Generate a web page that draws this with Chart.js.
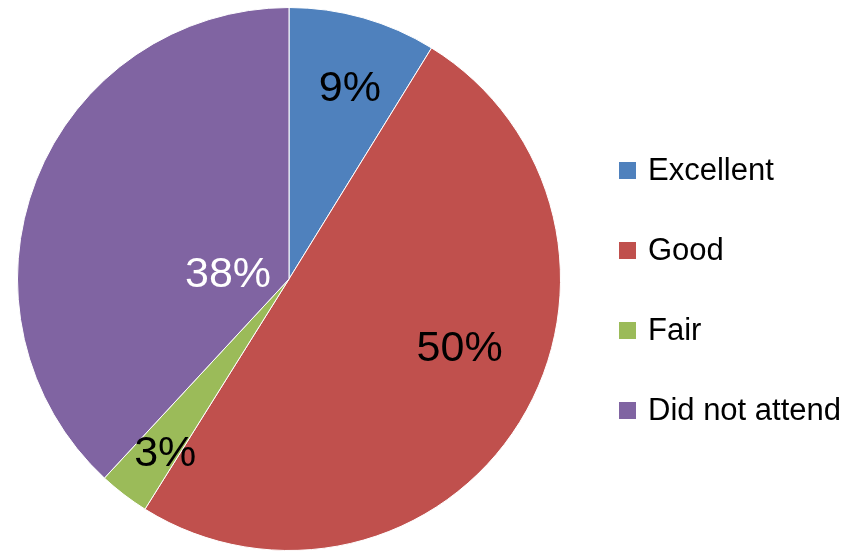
<!DOCTYPE html>
<html>
<head>
<meta charset="utf-8">
<script src="https://cdn.jsdelivr.net/npm/chart.js@4/dist/chart.umd.min.js"></script>
<style>
  html, body { margin:0; padding:0; background:#fff; }
  #wrap { width:865px; height:551px; }
</style>
</head>
<body>
<div id="wrap"><canvas id="pie" width="865" height="551"></canvas></div>
<script>
const CATEGORIES = ['Excellent', 'Good', 'Fair', 'Did not attend'];
const VALUES = [8.8, 50.1, 3.0, 38.1];
const PCT_LABELS = ['9%', '50%', '3%', '38%'];
const COLORS = ['#4F81BD', '#C0504D', '#9BBB59', '#8064A2'];
const LABEL_COLORS = ['#000', '#000', '#000', '#fff'];

// data labels: [radius fraction, angle shift in degrees from slice middle]
const sliceLabels = {
  id: 'sliceLabels',
  afterDatasetsDraw(chart, args, opts){
    const ctx = chart.ctx;
    const meta = chart.getDatasetMeta(0);
    ctx.save();
    ctx.font = opts.font;
    ctx.textAlign = 'center';
    ctx.textBaseline = 'middle';
    meta.data.forEach(function(arc, i){
      const p = arc.getProps(['x','y','startAngle','endAngle','outerRadius'], true);
      const pos = opts.pos[i];
      const a = (p.startAngle + p.endAngle) / 2 + pos[1] * Math.PI / 180;
      const r = p.outerRadius * pos[0];
      ctx.fillStyle = LABEL_COLORS[i];
      ctx.fillText(PCT_LABELS[i], p.x + Math.cos(a) * r, p.y + Math.sin(a) * r);
    });
    ctx.restore();
  }
};

// legend drawn at the right, one row per category
const sideLegend = {
  id: 'sideLegend',
  afterDraw(chart, args, opts){
    const ctx = chart.ctx;
    ctx.save();
    ctx.font = opts.font;
    ctx.textBaseline = 'middle';
    ctx.textAlign = 'left';
    chart.data.labels.forEach(function(lab, i){
      const y = opts.top + i * opts.step;
      ctx.fillStyle = COLORS[i];
      ctx.fillRect(opts.x, y - 8, 17, 17);
      ctx.fillStyle = '#000';
      ctx.fillText(lab, opts.x + 29, y + 1);
    });
    ctx.restore();
  }
};

new Chart(document.getElementById('pie').getContext('2d'), {
  type: 'pie',
  data: {
    labels: CATEGORIES,
    datasets: [{
      data: VALUES,
      backgroundColor: COLORS,
      borderColor: '#ffffff',
      borderWidth: 1
    }]
  },
  options: {
    responsive: false,
    animation: false,
    layout: { padding: { left: 17, right: 304, top: 7, bottom: 0 } },
    plugins: {
      legend: { display: false },
      tooltip: { enabled: false },
      sliceLabels: {
        font: '43px "Liberation Sans", Arial, sans-serif',
        pos: [[0.735, 1.9], [0.68, -9.4], [0.79, -2.2], [0.225, -17.6]]
      },
      sideLegend: {
        font: '31px "Liberation Sans", Arial, sans-serif',
        x: 619, top: 170, step: 80
      }
    }
  },
  plugins: [sliceLabels, sideLegend]
});
</script>
</body>
</html>
